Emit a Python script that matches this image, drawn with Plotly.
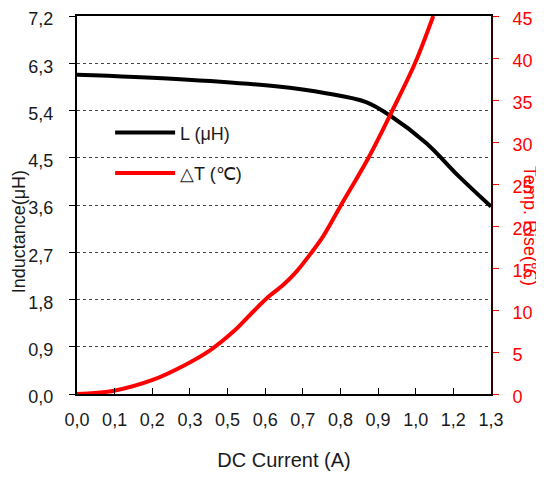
import plotly.graph_objects as go

# ---- data ----
x_tick_labels = ["0,0", "0,1", "0,2", "0,3", "0,5", "0,6", "0,7", "0,8", "0,9", "1,0", "1,2", "1,3"]
x_step = 0.116
y_left_labels = ["0,0", "0,9", "1,8", "2,7", "3,6", "4,5", "5,4", "6,3", "7,2"]
y_left_vals = [0.0, 0.9, 1.8, 2.7, 3.6, 4.5, 5.4, 6.3, 7.2]

L_current = [0.0, 0.305, 0.613, 0.767, 0.891, 0.968, 1.076, 1.178, 1.276]
L_uH = [6.08, 6.00, 5.86, 5.73, 5.56, 5.29, 4.78, 4.14, 3.57]

T_current = [0.0, 0.110, 0.233, 0.330, 0.410, 0.482, 0.533, 0.585, 0.636, 0.677,
             0.718, 0.759, 0.811, 0.898, 0.970, 1.042, 1.098]
T_rise = [0.0, 0.36, 1.67, 3.4, 5.2, 7.43, 9.41, 11.4, 13.0, 14.6,
          16.6, 18.8, 22.3, 28.1, 33.6, 39.4, 45.0]

x_tick_vals = [i * x_step for i in range(len(x_tick_labels))]
x_max = x_tick_vals[-1]

FONT = "Liberation Sans, Arial, sans-serif"

fig = go.Figure()
fig.add_trace(go.Scatter(x=L_current, y=L_uH, mode="lines", name="L (μH)",
                         line=dict(color="black", width=4, shape="spline", smoothing=1.0),
                         legendgroup="a", yaxis="y"))
fig.add_trace(go.Scatter(x=T_current, y=T_rise, mode="lines", name="△T (℃)",
                         line=dict(color="#ff0000", width=4, shape="spline", smoothing=1.0),
                         legendgroup="b", yaxis="y2"))

fig.update_layout(
    width=544, height=480,
    margin=dict(l=69, r=61, t=8, b=94, autoexpand=False),
    paper_bgcolor="white", plot_bgcolor="white",
    font=dict(family=FONT, color="#1a1a1a"),
    showlegend=True,
    legend=dict(x=0.08, y=0.74, xanchor="left", yanchor="top",
                bgcolor="rgba(0,0,0,0)", font=dict(size=18, color="#1a1a1a"),
                itemwidth=60, tracegroupgap=14),
    xaxis=dict(range=[0, x_max], tickvals=x_tick_vals, ticktext=x_tick_labels,
               ticks="inside", ticklen=6, tickcolor="black", tickwidth=1,
               showline=True, linecolor="black", linewidth=2, mirror=True,
               showgrid=False, zeroline=False, ticklabelstandoff=8,
               ticklabeloverflow="allow",
               tickfont=dict(size=18, color="#1a1a1a"),
               title=dict(text="DC Current (A)", font=dict(size=20, color="#1a1a1a"), standoff=24)),
    yaxis=dict(range=[0, 7.2], tickvals=y_left_vals, ticktext=y_left_labels,
               ticks="outside", ticklen=6, tickcolor="black",
               showline=True, linecolor="black", linewidth=2,
               showgrid=True, gridcolor="#444", gridwidth=1, griddash="dot",
               zeroline=False, ticklabelstandoff=12, ticklabelshift=3,
               ticklabeloverflow="allow",
               tickfont=dict(size=18, color="#1a1a1a")),
    yaxis2=dict(range=[0, 45], dtick=5, overlaying="y", side="right",
                ticks="outside", ticklen=6, tickcolor="#ff0000",
                showline=True, linecolor="#300000", linewidth=2,
                showgrid=False, zeroline=False, ticklabelstandoff=10,
                ticklabelshift=3, ticklabeloverflow="allow",
                tickfont=dict(size=18, color="#ff0000")),
)

fig.add_annotation(text="Inductance(μH)", xref="paper", yref="paper",
                   x=-0.138, y=0.43, xanchor="center", yanchor="middle",
                   textangle=-90, showarrow=False,
                   font=dict(size=18, color="#1a1a1a", family=FONT))
fig.add_annotation(text="Temp. Rise(℃)", xref="paper", yref="paper",
                   x=1.094, y=0.445, xanchor="center", yanchor="middle",
                   textangle=90, showarrow=False,
                   font=dict(size=18, color="#ff0000", family=FONT))

fig.write_html("out.html")
